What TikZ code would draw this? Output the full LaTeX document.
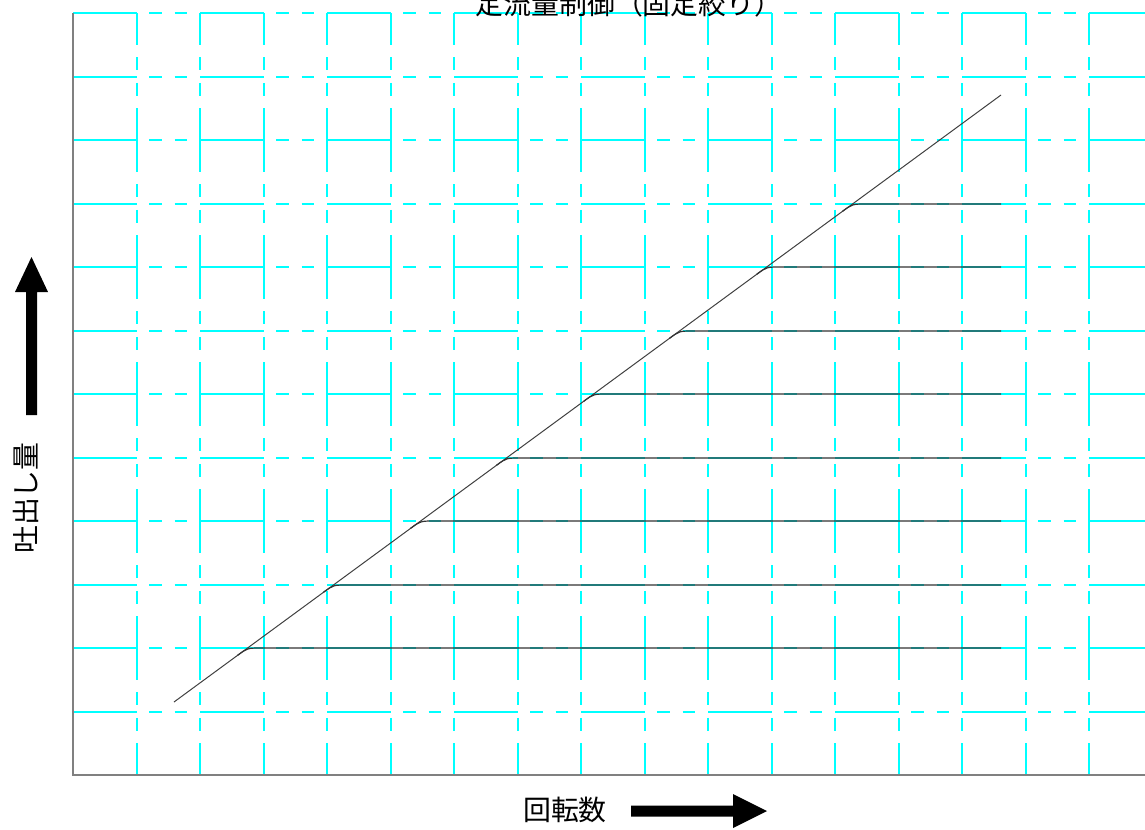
\documentclass[tikz,border=0pt]{standalone}
\usepackage{fontspec}
\newfontfamily\jp{Noto Sans CJK JP}
\definecolor{gridc}{RGB}{0,255,255}
\definecolor{axisc}{RGB}{128,128,128}
\begin{document}
\begin{tikzpicture}[x=1bp,y=-1bp,
  gridline/.style={draw=gridc, line width=1.4bp, dash pattern=on 63.5bp off 12.7bp on 12.7bp off 12.7bp on 12.7bp off 12.7bp},
  axisline/.style={draw=axisc, line width=2bp},
  curve/.style={draw=black!80, line width=1.2bp},
  diag/.style={draw=black!75, line width=1bp},
  bigarrow/.style={fill=black},
  lbl/.style={font=\jp\fontsize{28}{30}\selectfont, inner sep=0pt}]
\useasboundingbox (0,0) rectangle (1145,830);
% grid
\foreach \k in {0,...,11} {
  \pgfmathsetmacro\gy{round(13+63.5*\k)}
  \draw[gridline] (73,\gy) -- (1145,\gy);
}
\foreach \k in {1,...,16} {
  \pgfmathsetmacro\gx{round(73+63.5*\k)}
  \draw[gridline, dash phase=31.75bp] (\gx,13) -- (\gx,775);
}
% axes
\draw[axisline] (73,13) -- (73,775) -- (1145,775);
% curves
\draw[diag] (174,702) -- (1001,95);
\foreach \k in {3,...,10} {
  \pgfmathsetmacro\yy{round(13+63.5*\k)}
  \pgfmathsetmacro\xi{174+(702-\yy)/0.734}
  \draw[curve] ({\xi-10},{\yy+10*0.734}) .. controls (\xi,\yy) .. ({\xi+14},\yy) -- (1001,\yy);
}
% arrows
\fill[bigarrow] (26,415) -- (26,292) -- (15,292) -- (31.5,257) -- (48,292) -- (37,292) -- (37,415) -- cycle;
\fill[bigarrow] (631,805.5) -- (733,805.5) -- (733,794) -- (767,811) -- (733,828) -- (733,816.5) -- (631,816.5) -- cycle;
% labels
\node[lbl, anchor=base] (title) at (629,14) {定流量制御（固定絞り）};
\node[lbl, anchor=base] (xl) at (565,820) {回転数};
\node[lbl, rotate=90] (yl) at (26,498) {吐出し量};
\end{tikzpicture}
\end{document}
